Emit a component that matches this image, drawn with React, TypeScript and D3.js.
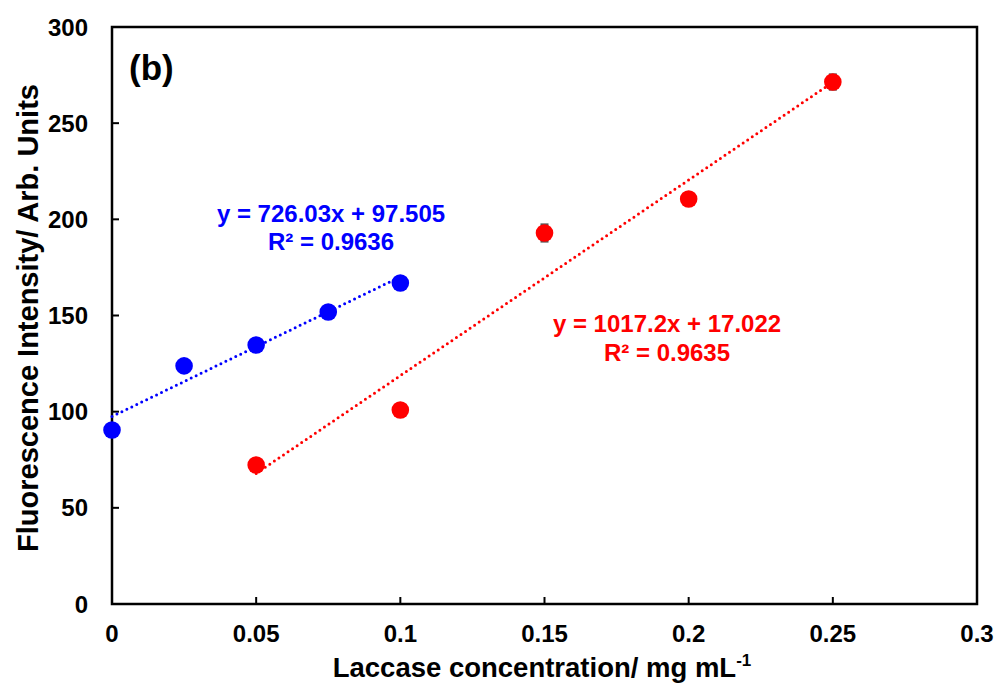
import React from "react";
import * as d3 from "d3";

// Laccase concentration (mg/mL) and fluorescence intensity for the two series
const blueX = [0, 0.025, 0.05, 0.075, 0.1];
const blueY = [90.5, 123.8, 134.7, 151.8, 166.9];
const blueErr = [0, 0, 0, 0, 0];
const redX = [0.05, 0.1, 0.15, 0.2, 0.25];
const redY = [72.3, 100.9, 192.9, 210.6, 271.4];
const redErr = [0, 0, 5, 0, 4.5];

// Linear fits y = m x + b
const blueFit = { m: 726.03, b: 97.505, r2: "0.9636", x0: 0, x1: 0.1 };
const redFit = { m: 1017.2, b: 17.022, r2: "0.9635", x0: 0.05, x1: 0.25 };

const xTicks = [0, 0.05, 0.1, 0.15, 0.2, 0.25, 0.3];
const yTicks = [0, 50, 100, 150, 200, 250, 300];

const W = 998;
const H = 691;
const M = { left: 112, right: 977, top: 27, bottom: 604 };
const FONT = "'Liberation Sans', Arial, sans-serif";

export default function App() {
  const x = d3.scaleLinear().domain([0, 0.3]).range([M.left, M.right]);
  const y = d3.scaleLinear().domain([0, 300]).range([M.bottom, M.top]);

  const fitPath = (f: typeof blueFit) =>
    d3
      .line<number>()
      .x((d) => x(d))
      .y((d) => y(f.m * d + f.b))([f.x0, f.x1]) as string;

  const series = [
    { xs: blueX, ys: blueY, errs: blueErr, color: "#0000ff", fit: blueFit },
    { xs: redX, ys: redY, errs: redErr, color: "#ff0000", fit: redFit },
  ];

  return (
    <svg width={W} height={H} style={{ display: "block", position: "absolute", left: 0, top: 0 }} fontFamily={FONT}>
      <rect x={0} y={0} width={W} height={H} fill="#fff" />
      {/* frame */}
      <rect
        x={M.left}
        y={M.top}
        width={M.right - M.left}
        height={M.bottom - M.top}
        fill="none"
        stroke="#000"
        strokeWidth={2.5}
      />
      {/* ticks (inward) */}
      {xTicks.map((t) => (
        <line key={"xt" + t} x1={x(t)} x2={x(t)} y1={M.bottom} y2={M.bottom - 7} stroke="#000" strokeWidth={2} />
      ))}
      {yTicks.map((t) => (
        <line key={"yt" + t} x1={M.left} x2={M.left + 7} y1={y(t)} y2={y(t)} stroke="#000" strokeWidth={2} />
      ))}
      {xTicks.map((t) => (
        <text key={"xl" + t} x={x(t)} y={642} textAnchor="middle" fontSize={24} fontWeight="bold">
          {String(t)}
        </text>
      ))}
      {yTicks.map((t) => (
        <text key={"yl" + t} x={88} y={y(t) + 8.5} textAnchor="end" fontSize={24} fontWeight="bold">
          {String(t)}
        </text>
      ))}
      {/* axis titles */}
      <text x={542} y={677} textAnchor="middle" fontSize={27.5} fontWeight="bold">
        Laccase concentration/ mg mL
        <tspan fontSize={17} dy={-11}>-1</tspan>
      </text>
      <text
        transform={`translate(38,${318}) rotate(-90)`}
        textAnchor="middle"
        fontSize={29}
        fontWeight="bold"
      >
        Fluorescence Intensity/ Arb. Units
      </text>
      <text x={129} y={80} fontSize={35} fontWeight="bold">
        (b)
      </text>

      {/* trend lines */}
      {series.map((s, i) => (
        <path
          key={"fit" + i}
          d={fitPath(s.fit)}
          fill="none"
          stroke={s.color}
          strokeWidth={3}
          strokeDasharray="0 5.5"
          strokeLinecap="round"
        />
      ))}
      {/* error bars */}
      {series.map((s, i) =>
        s.xs.map((xv, j) =>
          s.errs[j] > 0 ? (
            <line
              key={"e" + i + j}
              x1={x(xv)}
              x2={x(xv)}
              y1={y(s.ys[j] - s.errs[j])}
              y2={y(s.ys[j] + s.errs[j])}
              stroke="#555"
              strokeWidth={8}
            />
          ) : null
        )
      )}
      {/* markers */}
      {series.map((s, i) =>
        s.xs.map((xv, j) => <circle key={"p" + i + j} cx={x(xv)} cy={y(s.ys[j])} r={8.8} fill={s.color} />)
      )}
      {/* equations */}
      <g fill="#0000ff" fontSize={24} fontWeight="bold" textAnchor="middle">
        <text x={331} y={222}>{`y = ${blueFit.m}x + ${blueFit.b}`}</text>
        <text x={331} y={250}>{`R² = ${blueFit.r2}`}</text>
      </g>
      <g fill="#ff0000" fontSize={24} fontWeight="bold" textAnchor="middle">
        <text x={667} y={332}>{`y = ${redFit.m}x + ${redFit.b}`}</text>
        <text x={667} y={361}>{`R² = ${redFit.r2}`}</text>
      </g>
    </svg>
  );
}
